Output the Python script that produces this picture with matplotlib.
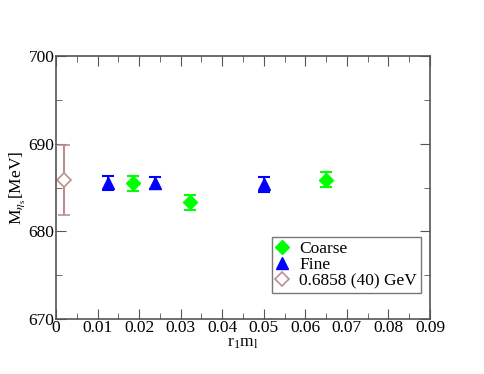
import matplotlib
matplotlib.use("Agg")
import matplotlib.pyplot as plt
from matplotlib.ticker import MultipleLocator, FuncFormatter

plt.rcParams['font.family'] = ['Liberation Serif', 'DejaVu Serif']
plt.rcParams['mathtext.fontset'] = 'stix'

# data
coarse_x = [0.0186, 0.0322, 0.0649]
coarse_y = [685.5, 683.3, 685.9]
coarse_err = [0.85, 0.9, 0.85]

fine_x = [0.0126, 0.0238, 0.0501]
fine_y = [685.5, 685.5, 685.4]
fine_err = [0.8, 0.65, 0.85]

phys_x = [0.002]
phys_y = [685.86]
phys_err = [4.0]

fig = plt.figure(figsize=(4.84, 3.74), dpi=100)
ax = fig.add_axes([0.1157, 0.147, 0.7727, 0.703])

c = ax.errorbar(coarse_x, coarse_y, yerr=coarse_err, fmt='D', color='#00ff00',
                ms=7, capsize=4, elinewidth=1.5, capthick=1.5)
f = ax.errorbar(fine_x, fine_y, yerr=fine_err, fmt='^', color='#0000ff',
                ms=8, capsize=4, elinewidth=1.5, capthick=1.5)
p = ax.errorbar(phys_x, phys_y, yerr=phys_err, fmt='D', color='#bc8f8f',
                mfc='white', ms=7, mew=1.2, capsize=4, elinewidth=1.5,
                capthick=1.5)

ax.set_xlim(0, 0.09)
ax.set_ylim(670, 700)
ax.xaxis.set_major_locator(MultipleLocator(0.01))
ax.xaxis.set_minor_locator(MultipleLocator(0.005))
ax.yaxis.set_major_locator(MultipleLocator(10))
ax.yaxis.set_minor_locator(MultipleLocator(5))
ax.xaxis.set_major_formatter(FuncFormatter(lambda v, pos: '0' if abs(v) < 1e-9 else f'{v:.2f}'))
ax.tick_params(which='both', direction='in', top=True, right=True,
               colors='#555555', labelcolor='black', labelsize=12.5, pad=1)
ax.tick_params(which='major', length=7)
ax.tick_params(which='minor', length=4)
for s in ax.spines.values():
    s.set_color('#555555')
    s.set_linewidth(1.2)

ax.set_xlabel(r'r$_\mathregular{1}$m$_\mathregular{l}$', fontsize=12.5, labelpad=-1)
ax.set_ylabel(r'M$_{\eta_\mathregular{s}}$[MeV]', fontsize=12.5, labelpad=1)

leg = ax.legend([c[0], f[0], p[0]], ['Coarse', 'Fine', '0.6858 (40) GeV'],
                loc='lower right', bbox_to_anchor=(0.975, 0.1), fontsize=12.5,
                frameon=True, fancybox=False, handlelength=0.8,
                handletextpad=0.6, borderpad=0.2, labelspacing=0.0,
                borderaxespad=0.0, numpoints=1)
leg.get_frame().set_edgecolor('#555555')
leg.get_frame().set_linewidth(1.0)

fig.savefig('out.png', dpi=100)
